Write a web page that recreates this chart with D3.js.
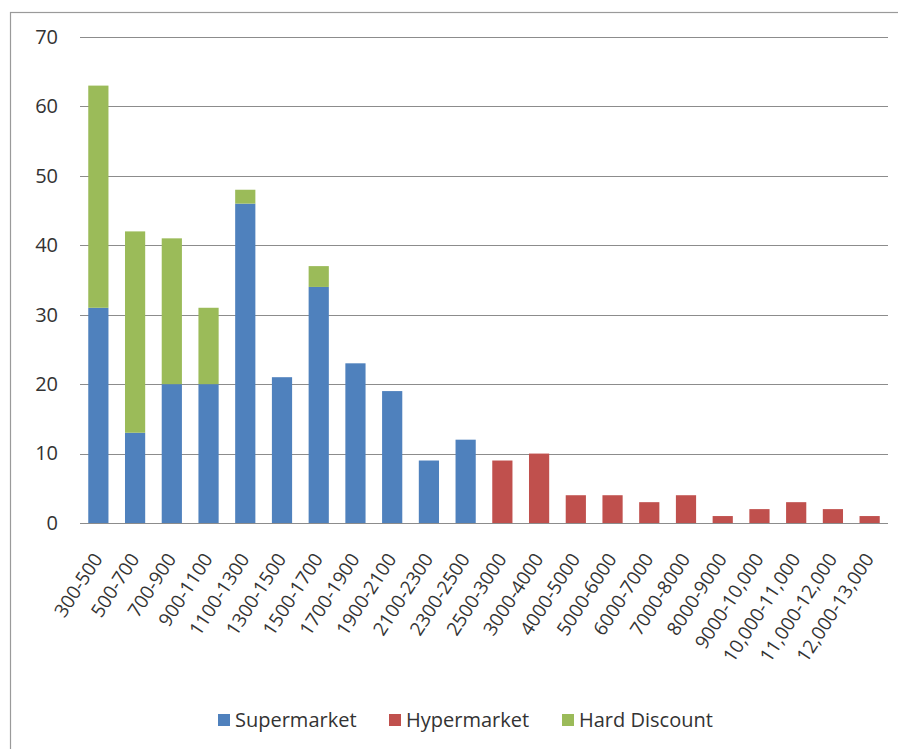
<!DOCTYPE html>
<html>
<head>
<meta charset="utf-8">
<script src="https://cdn.jsdelivr.net/npm/d3@7"></script>
<style>
  html, body { margin: 0; padding: 0; background: #fff; }
  svg { display: block; }
  text { font-family: "Open Sans", "Liberation Sans", sans-serif; fill: #333; }
</style>
</head>
<body>
<script>
// Store counts by floor-area band (sq m)
const categories = ["300-500", "500-700", "700-900", "900-1100", "1100-1300", "1300-1500",
  "1500-1700", "1700-1900", "1900-2100", "2100-2300", "2300-2500", "2500-3000",
  "3000-4000", "4000-5000", "5000-6000", "6000-7000", "7000-8000", "8000-9000",
  "9000-10,000", "10,000-11,000", "11,000-12,000", "12,000-13,000"];
const supermarket  = [31, 13, 20, 20, 46, 21, 34, 23, 19, 9, 12, 0, 0, 0, 0, 0, 0, 0, 0, 0, 0, 0];
const hypermarket  = [0, 0, 0, 0, 0, 0, 0, 0, 0, 0, 0, 9, 10, 4, 4, 3, 4, 1, 2, 3, 2, 1];
const hardDiscount = [32, 29, 21, 11, 2, 0, 3, 0, 0, 0, 0, 0, 0, 0, 0, 0, 0, 0, 0, 0, 0, 0];
const yTicks = [0, 10, 20, 30, 40, 50, 60, 70];

const seriesNames = ["Supermarket", "Hypermarket", "Hard Discount"];
const colors = { "Supermarket": "#4F81BD", "Hypermarket": "#C0504D", "Hard Discount": "#9BBB59" };

const W = 898, H = 749;
const plot = { left: 80, right: 888, top: 37, bottom: 523 };

const rows = categories.map((c, i) => ({
  cat: c,
  "Supermarket": supermarket[i] || 0,
  "Hypermarket": hypermarket[i] || 0,
  "Hard Discount": hardDiscount[i] || 0
}));

const svg = d3.select("body").append("svg").attr("width", W).attr("height", H);

// Chart-area frame
svg.append("rect")
  .attr("x", 10.5).attr("y", 12.5)
  .attr("width", W).attr("height", H)
  .attr("fill", "none").attr("stroke", "#9a9a9a").attr("stroke-width", 1.2);

const x = d3.scaleBand().domain(categories).range([plot.left, plot.right]).paddingInner(0.45).paddingOuter(0.225);
const y = d3.scaleLinear().domain([0, 70]).range([plot.bottom, plot.top]);

// Horizontal gridlines
svg.append("g").selectAll("line").data(yTicks).join("line")
  .attr("x1", plot.left).attr("x2", plot.right)
  .attr("y1", d => Math.round(y(d)) + 0.5).attr("y2", d => Math.round(y(d)) + 0.5)
  .attr("stroke", "#8c8c8c").attr("stroke-width", 1);

// Y axis labels
const yAxis = d3.axisLeft(y).tickValues(yTicks).tickSize(0).tickPadding(0);
const gy = svg.append("g").attr("transform", `translate(58,0)`).call(yAxis);
gy.select(".domain").remove();
gy.selectAll("text").attr("font-size", 20).attr("fill", "#333")
  .style("font-family", '"Open Sans", sans-serif');

// Stacked bars
const stack = d3.stack().keys(seriesNames)(rows);
svg.append("g").selectAll("g").data(stack).join("g")
  .attr("fill", s => colors[s.key])
  .selectAll("rect").data(s => s).join("rect")
  .attr("x", d => x(d.data.cat))
  .attr("width", x.bandwidth())
  .attr("y", d => y(d[1]))
  .attr("height", d => y(d[0]) - y(d[1]));

// Category labels, rotated
const xAxis = d3.axisBottom(x).tickSize(0).tickPadding(0);
const gx = svg.append("g").attr("transform", `translate(0,${plot.bottom})`).call(xAxis);
gx.select(".domain").remove();
gx.selectAll(".tick text")
  .attr("font-size", 19).attr("fill", "#333")
  .style("font-family", '"Open Sans", sans-serif')
  .attr("text-anchor", "end")
  .attr("x", 0).attr("y", 0).attr("dy", 0)
  .attr("transform", "translate(5,36) rotate(-57)");

// Legend
const legendItems = [
  { name: "Supermarket", x: 218 },
  { name: "Hypermarket", x: 389 },
  { name: "Hard Discount", x: 562 }
];
const lg = svg.append("g").selectAll("g").data(legendItems).join("g")
  .attr("transform", d => `translate(${d.x},714)`);
lg.append("rect").attr("width", 12).attr("height", 12).attr("fill", d => colors[d.name]);
lg.append("text").attr("x", 17).attr("y", 6).attr("dy", "0.36em")
  .attr("font-size", 20).text(d => d.name);
</script>
</body>
</html>
